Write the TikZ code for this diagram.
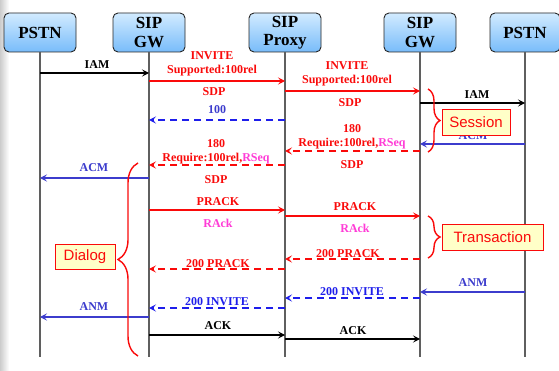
\documentclass[tikz,border=0pt]{standalone}
\usepackage{fontspec}
\setmainfont{Liberation Serif}
\newfontfamily\boxfont{Liberation Sans}
\usetikzlibrary{arrows.meta,decorations.pathreplacing}
\definecolor{myred}{RGB}{250,10,10}
\definecolor{dblue}{RGB}{30,30,235}
\definecolor{sblue}{RGB}{60,60,205}
\definecolor{mymag}{RGB}{255,60,215}
\definecolor{lifegray}{RGB}{95,95,95}
\definecolor{hdtop}{RGB}{210,235,255}
\definecolor{hdbot}{RGB}{120,188,250}
\definecolor{notefill}{RGB}{255,255,200}
\begin{document}
\begin{tikzpicture}[x=1pt,y=-1pt,
  hdr/.style={draw=black!85, line width=0.9pt, rounded corners=5pt,
    minimum width=72pt, minimum height=39pt, top color=hdtop, bottom color=hdbot,
    font=\fontsize{17}{18.5}\selectfont\bfseries, align=center, inner sep=0pt},
  life/.style={draw=lifegray, line width=1.2pt},
  msg/.style={line width=1.3pt, -{Stealth[length=7pt,width=7pt,inset=3pt]}},
  msgk/.style={msg, draw=black},
  msgr/.style={msg, draw=myred},
  msgrd/.style={msg, draw=myred, dash pattern=on 7pt off 5pt},
  msgb/.style={msg, draw=sblue},
  msgbd/.style={msg, draw=dblue, dash pattern=on 7pt off 5pt},
  lbl/.style={font=\fontsize{12}{14}\selectfont\bfseries, inner sep=0pt, align=center},
  brc/.style={draw=myred, line width=1.4pt, decorate},
  note/.style={draw=myred, line width=0.9pt, fill=notefill, text=myred,
    font=\boxfont\fontsize{15}{16}\selectfont, inner sep=0pt, minimum height=26pt}
]
\fill[white] (0,0) rectangle (559,371);
\shade[left color=black!20, right color=white] (0,0) rectangle (9,371);
\useasboundingbox (0,0) rectangle (559,371);

% headers
\node[hdr] (p1) at (40,32.5) {PSTN};
\node[hdr] (g1) at (149,32.5) {SIP\\GW};
\node[hdr] (px) at (285,32.5) {SIP\\Proxy};
\node[hdr] (g2) at (420,32.5) {SIP\\GW};
\node[hdr, minimum width=70pt] (p2) at (525,32.5) {PSTN};

% lifelines
\foreach \n in {p1,g1,px,g2,p2} \draw[life] (\n.south) -- (\n |- 0,357);

% messages
\draw[msgk]  (p1 |- 0,73)  -- (g1 |- 0,73);
\draw[msgr]  (g1 |- 0,81)  -- (px |- 0,81);
\draw[msgr]  (px |- 0,91)  -- (g2 |- 0,91);
\draw[msgk]  (g2 |- 0,103) -- (p2 |- 0,103);
\draw[msgbd] (px |- 0,120) -- (g1 |- 0,120);
\draw[msgb]  (p2 |- 0,144) -- (g2 |- 0,144);
\draw[msgrd] (g2 |- 0,151) -- (px |- 0,151);
\draw[msgrd] (px |- 0,165) -- (g1 |- 0,165);
\draw[msgb]  (g1 |- 0,178) -- (p1 |- 0,178);
\draw[msgr]  (g1 |- 0,210) -- (px |- 0,210);
\draw[msgr]  (px |- 0,216) -- (g2 |- 0,216);
\draw[msgrd] (g2 |- 0,259) -- (px |- 0,259);
\draw[msgrd] (px |- 0,269) -- (g1 |- 0,269);
\draw[msgb]  (p2 |- 0,292) -- (g2 |- 0,292);
\draw[msgbd] (g2 |- 0,298) -- (px |- 0,298);
\draw[msgbd] (px |- 0,308) -- (g1 |- 0,308);
\draw[msgb]  (g1 |- 0,317) -- (p1 |- 0,317);
\draw[msgk]  (g1 |- 0,335) -- (px |- 0,335);
\draw[msgk]  (px |- 0,339) -- (g2 |- 0,339);

% labels
\node[lbl] (l1) at (97,65) {IAM};
\node[lbl, text=myred] (l2) at (212,64) {INVITE\\Supported:100rel};
\node[lbl, text=myred] (l2s) at (214,92) {SDP};
\node[lbl, text=myred] (l3) at (347,74) {INVITE\\Supported:100rel};
\node[lbl, text=myred] (l3s) at (350,103) {SDP};
\node[lbl] (l4) at (477,95) {IAM};
\node[lbl, text=sblue] (l5) at (217,110) {100};
\node[lbl, text=sblue] (l6) at (473,136) {ACM};
\node[lbl, text=myred] (l7) at (352,137) {180\\Require:100rel,\textcolor{mymag}{RSeq}};
\node[lbl, text=myred] (l7s) at (352,165) {SDP};
\node[lbl, text=myred] (l8) at (216,151.5) {180\\Require:100rel,\textcolor{mymag}{RSeq}};
\node[lbl, text=myred] (l8s) at (216,180) {SDP};
\node[lbl, text=sblue] (l9) at (94,168) {ACM};
\node[lbl, text=myred] (l10) at (218,202) {PRACK};
\node[lbl, text=mymag] (l10r) at (218,223) {RAck};
\node[lbl, text=myred] (l11) at (355,207) {PRACK};
\node[lbl, text=mymag] (l11r) at (355,228) {RAck};
\node[lbl, text=myred] (l12) at (348,254) {200 PRACK};
\node[lbl, text=myred] (l13) at (218,264) {200 PRACK};
\node[lbl, text=sblue] (l14) at (473,283) {ANM};
\node[lbl, text=dblue] (l15) at (352,292) {200 INVITE};
\node[lbl, text=dblue] (l16) at (217,302) {200 INVITE};
\node[lbl, text=sblue] (l17) at (94,307) {ANM};
\node[lbl] (l18) at (218,326) {ACK};
\node[lbl] (l19) at (353,331) {ACK};

% braces
\draw[brc, decoration={brace,amplitude=12pt}] (428,89) -- (428,152);
\draw[brc, decoration={brace,amplitude=12pt}] (428,216) -- (428,258);
\draw[brc, decoration={brace,amplitude=20pt}] (138,356) -- (138,163);

% notes
\node[note, minimum width=68pt] (ses) at (476,122) {Session};
\node[note, minimum width=101pt] (tra) at (492.5,237) {Transaction};
\node[note, minimum width=60pt, minimum height=25pt] (dia) at (85,256.5) {Dialog};
\end{tikzpicture}
\end{document}
